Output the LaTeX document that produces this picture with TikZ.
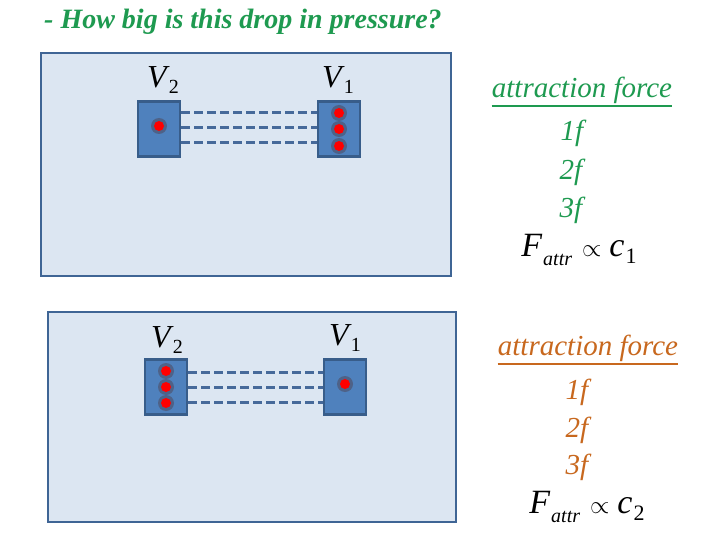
\documentclass[tikz,border=0pt]{standalone}
\usepackage{fontspec}
\setmainfont{Liberation Serif}
\begin{document}
\begin{tikzpicture}[x=1pt,y=-1pt,
  panel/.style={draw=panelborder,fill=panelfill,line width=2.5pt},
  vbox/.style={draw=boxborder,fill=boxfill,line width=2.5pt,minimum width=42pt,minimum height=55pt,inner sep=0pt},
  bond/.style={draw=bondcol,line width=3pt,dash pattern=on 9pt off 4pt},
  vlabel/.style={font=\fontsize{32}{32}\selectfont,inner sep=0pt},
  heading/.style={font=\fontsize{29}{29}\selectfont\itshape,inner sep=0pt},
  uline/.style={line width=2pt},
  fnum/.style={font=\fontsize{29}{29}\selectfont\itshape,inner sep=0pt},
  formula/.style={font=\fontsize{34}{34}\selectfont,inner sep=0pt},
  title/.style={font=\fontsize{28}{28}\selectfont\bfseries\itshape,text=titlegreen,inner sep=0pt,anchor=west}
]
\definecolor{panelfill}{HTML}{DCE6F2}
\definecolor{panelborder}{HTML}{3F6595}
\definecolor{boxfill}{HTML}{4F81BD}
\definecolor{boxborder}{HTML}{385D8A}
\definecolor{bondcol}{HTML}{46699A}
\definecolor{halo}{HTML}{4E6288}
\definecolor{titlegreen}{HTML}{1E9A50}
\definecolor{forcegreen}{HTML}{1E9A50}
\definecolor{forceorange}{HTML}{C8681E}
\tikzset{dot/.pic={\fill[halo] (0,0) circle (8pt); \fill[red] (0,0) circle (5pt);}}
\newcommand{\vsub}[1]{\kern2pt\raisebox{-0.35ex}{\fontsize{20}{20}\selectfont\upshape #1}}
\newcommand{\fattr}[1]{\itshape F\kern1pt\raisebox{-0.6ex}{\fontsize{20}{20}\selectfont attr}\kern10pt{\fontsize{28}{28}\selectfont$\propto$}\kern8pt c\kern1pt\raisebox{-0.45ex}{\fontsize{22}{22}\selectfont\upshape #1}}
\useasboundingbox (0,0) rectangle (720,540);
\fill[white] (0,0) rectangle (720,540);

\node[title] (t) at (44,22) {- How big is this drop in pressure?};

% top panel
\draw[panel] (41,53) rectangle (451,276);
\node[vbox] (a2) at (159,129) {};
\node[vbox] (a1) at (339,129) {};
\node[vlabel] (la2) at (163,80) {\itshape V\vsub{2}};
\node[vlabel] (la1) at (338,80) {\itshape V\vsub{1}};
\foreach \y in {113,128,143}{\draw[bond] (a2.east |- 0,\y) -- (a1.west |- 0,\y);}
\pic at (159,126) {dot};
\pic at (339,113) {dot};
\pic at (339,129) {dot};
\pic at (339,146) {dot};

\node[heading,text=forcegreen] (h1) at (582,90) {attraction force};
\draw[uline,forcegreen] ([yshift=-3pt]h1.south west) -- ([yshift=-3pt]h1.south east);
\node[fnum,text=forcegreen] (f11) at (572,133) {1f};
\node[fnum,text=forcegreen] (f12) at (571,172) {2f};
\node[fnum,text=forcegreen] (f13) at (571,210) {3f};
\node[formula] (e1) at (579,250) {\fattr{1}};

% bottom panel
\draw[panel] (48,312) rectangle (456,522);
\node[vbox] (b2) at (166,387) {};
\node[vbox] (b1) at (345,387) {};
\node[vlabel] (lb2) at (167,340) {\itshape V\vsub{2}};
\node[vlabel] (lb1) at (345,338) {\itshape V\vsub{1}};
\foreach \y in {372,387,402}{\draw[bond] (b2.east |- 0,\y) -- (b1.west |- 0,\y);}
\pic at (166,371) {dot};
\pic at (166,387) {dot};
\pic at (166,403) {dot};
\pic at (345,384) {dot};

\node[heading,text=forceorange] (h2) at (588,348) {attraction force};
\draw[uline,forceorange] ([yshift=-3pt]h2.south west) -- ([yshift=-3pt]h2.south east);
\node[fnum,text=forceorange] (f21) at (577,392) {1f};
\node[fnum,text=forceorange] (f22) at (577,430) {2f};
\node[fnum,text=forceorange] (f23) at (577,467) {3f};
\node[formula] (e2) at (587,507) {\fattr{2}};
\end{tikzpicture}
\end{document}
